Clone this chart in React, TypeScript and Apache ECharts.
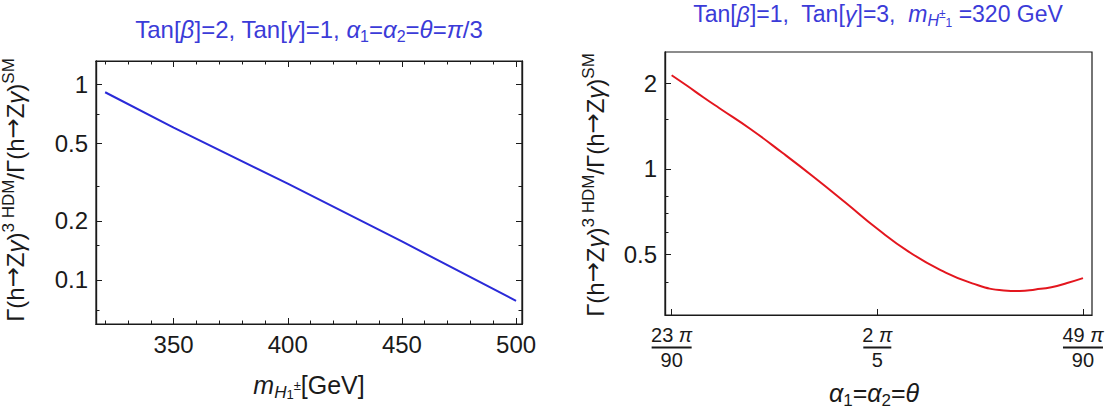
import React, { useEffect, useRef } from 'react';
import * as echarts from 'echarts';

// ---------- data ----------
// Left panel: ratio vs charged Higgs mass
const massGeV = [320, 350, 400, 450, 500];
const ratioVsMass = [0.91, 0.6, 0.31, 0.157, 0.078];
const massTicks = [350, 400, 450, 500];
const massMinorTicks = [320, 330, 340, 360, 370, 380, 390, 410, 420, 430, 440, 460, 470, 480, 490];
const leftRatioTicks = [0.1, 0.2, 0.5, 1];
const leftRatioMinorTicks = [0.07, 0.15, 0.3, 0.7];

// Right panel: ratio vs theta (theta given in units of pi/90)
const thetaInPiOver90 = [23, 24, 25, 26, 28, 30, 32, 34, 36, 38, 40, 42, 44, 45, 46, 47, 48, 49];
const ratioVsTheta = [2.14, 1.96, 1.79, 1.64, 1.38, 1.14, 0.935, 0.76, 0.615, 0.51, 0.44, 0.395, 0.373, 0.371, 0.376, 0.383, 0.396, 0.412];
const thetaTickNum = [23, 2, 49];
const thetaTickDen = [90, 5, 90];
const rightRatioTicks = [0.5, 1, 2];
const rightRatioMinorTicks = [0.4, 0.6, 0.7, 0.8, 1.5];

// ---------- styling ----------
const FONT = "'Liberation Sans', Arial, Helvetica, sans-serif";
const BLACK = '#1a1a1a';
const TITLE_BLUE = '#3b3bd8';
const LINE_BLUE = '#2a2ad8';
const LINE_RED = '#e3161e';

const thetaRad = thetaInPiOver90.map((u) => (u * Math.PI) / 90);
const thetaTickValues = thetaTickNum.map((n, i) => (n * Math.PI) / thetaTickDen[i]);

const fmtNum = (v: number) => String(+Number(v).toPrecision(3));

function tickAxis(opts: any) {
  const { gridIndex, position, type, min, max, ticks, len, label } = opts;
  return {
    type,
    gridIndex,
    position,
    min,
    max,
    splitLine: { show: false },
    axisLine: { show: true, onZero: false, lineStyle: { color: BLACK, width: 1.2 } },
    axisTick: {
      show: true,
      inside: true,
      length: len,
      customValues: ticks,
      lineStyle: { color: BLACK, width: 1 },
    },
    axisLabel: label
      ? { show: true, customValues: ticks, ...label }
      : { show: false },
  };
}

const tickLabel = {
  fontSize: 24,
  fontFamily: FONT,
  color: BLACK,
  margin: 8,
  formatter: (v: number) => fmtNum(v),
};

const fracLabel = {
  fontFamily: FONT,
  color: BLACK,
  margin: 9,
  formatter: (v: number) => {
    const i = thetaTickValues.findIndex((t) => Math.abs(t - v) < 1e-6);
    if (i < 0) return '';
    const n = thetaTickNum[i];
    const bar = String(n).length > 1 ? 'barW' : 'barN';
    return `{n|${n} }{pi|π}\n{${bar}| }\n{n|${thetaTickDen[i]}}`;
  },
  rich: {
    n: { fontSize: 20, fontFamily: FONT, color: BLACK, lineHeight: 22 },
    pi: { fontSize: 20, fontFamily: FONT, color: BLACK, fontStyle: 'italic', lineHeight: 22 },
    barW: { width: 40, height: 2, backgroundColor: BLACK, fontSize: 1, lineHeight: 3 },
    barN: { width: 28, height: 2, backgroundColor: BLACK, fontSize: 1, lineHeight: 3 },
  },
};

const richBase = (size: number, color: string) => ({
  i: { fontSize: size, fontFamily: FONT, fill: color, fontStyle: 'italic', lineHeight: size + 6 },
  sub: { fontSize: Math.round(size * 0.68), fontFamily: FONT, fill: color, verticalAlign: 'bottom', lineHeight: Math.round(size * 0.6) },
  subi: { fontSize: Math.round(size * 0.68), fontFamily: FONT, fill: color, fontStyle: 'italic', verticalAlign: 'bottom', lineHeight: Math.round(size * 0.6) },
  ss: { fontSize: Math.round(size * 0.5), fontFamily: FONT, fill: color, verticalAlign: 'bottom', lineHeight: Math.round(size * 0.3) },
  ssup: { fontSize: Math.round(size * 0.5), fontFamily: FONT, fill: color, verticalAlign: 'middle', lineHeight: Math.round(size * 0.6) },
  sup: { fontSize: Math.round(size * 0.7), fontFamily: FONT, fill: color, verticalAlign: 'top', lineHeight: Math.round(size * 0.55) },
  ar: { fontSize: size, fontFamily: "'DejaVu Sans', sans-serif", fill: color, lineHeight: size + 6, padding: [0, 0, 4, 0] },
});

function textEl(x: number, y: number, text: string, size: number, color: string, rotation = 0) {
  return {
    type: 'text',
    x,
    y,
    rotation,
    style: {
      text,
      fill: color,
      fontSize: size,
      fontFamily: FONT,
      align: 'center',
      verticalAlign: 'middle',
      rich: richBase(size, color),
    },
  };
}

const yTitle = 'Γ(h{ar|→}Z{i|γ}){sup|3 HDM}/Γ(h{ar|→}Z{i|γ}){sup|SM}';

export default function App() {
  const ref = useRef<HTMLDivElement>(null);
  useEffect(() => {
    if (!ref.current) return;
    const chart = echarts.init(ref.current, null, { renderer: 'svg' });
    const option: any = {
      animation: false,
      backgroundColor: '#ffffff',
      grid: [
        { left: 96, top: 61, width: 426, height: 263, show: true, borderColor: BLACK, borderWidth: 1.2, containLabel: false },
        { left: 665, top: 52, width: 427, height: 263, show: true, borderColor: BLACK, borderWidth: 1.2, containLabel: false },
      ],
      xAxis: [
        tickAxis({ gridIndex: 0, position: 'bottom', type: 'value', min: 316, max: 502.6, ticks: massTicks, len: 6, label: tickLabel }),
        tickAxis({ gridIndex: 0, position: 'bottom', type: 'value', min: 316, max: 502.6, ticks: massMinorTicks, len: 3.5 }),
        tickAxis({ gridIndex: 0, position: 'top', type: 'value', min: 316, max: 502.6, ticks: massTicks, len: 6 }),
        tickAxis({ gridIndex: 0, position: 'top', type: 'value', min: 316, max: 502.6, ticks: massMinorTicks, len: 3.5 }),
        tickAxis({ gridIndex: 1, position: 'bottom', type: 'value', min: (22.58 * Math.PI) / 90, max: (49.57 * Math.PI) / 90, ticks: thetaTickValues, len: 6, label: fracLabel }),
      ],
      yAxis: [
        tickAxis({ gridIndex: 0, position: 'left', type: 'log', min: 0.0594, max: 1.315, ticks: leftRatioTicks, len: 6, label: tickLabel }),
        tickAxis({ gridIndex: 0, position: 'left', type: 'log', min: 0.0594, max: 1.315, ticks: leftRatioMinorTicks, len: 3.5 }),
        tickAxis({ gridIndex: 0, position: 'right', type: 'log', min: 0.0594, max: 1.315, ticks: leftRatioTicks, len: 6 }),
        tickAxis({ gridIndex: 0, position: 'right', type: 'log', min: 0.0594, max: 1.315, ticks: leftRatioMinorTicks, len: 3.5 }),
        tickAxis({ gridIndex: 1, position: 'left', type: 'log', min: 0.3055, max: 2.584, ticks: rightRatioTicks, len: 6, label: tickLabel }),
        tickAxis({ gridIndex: 1, position: 'left', type: 'log', min: 0.3055, max: 2.584, ticks: rightRatioMinorTicks, len: 3.5 }),
      ],
      series: [
        {
          type: 'line',
          xAxisIndex: 0,
          yAxisIndex: 0,
          data: massGeV.map((m, i) => [m, ratioVsMass[i]]),
          showSymbol: false,
          symbol: 'none',
          lineStyle: { color: LINE_BLUE, width: 2 },
          itemStyle: { color: LINE_BLUE },
        },
        {
          type: 'line',
          xAxisIndex: 4,
          yAxisIndex: 4,
          data: thetaRad.map((t, i) => [t, ratioVsTheta[i]]),
          smooth: 0.5,
          showSymbol: false,
          symbol: 'none',
          lineStyle: { color: LINE_RED, width: 2 },
          itemStyle: { color: LINE_RED },
        },
      ],
      graphic: [
        textEl(309, 29, 'Tan[{i|β}]=2, Tan[{i|γ}]=1, {i|α}{sub|1}={i|α}{sub|2}={i|θ}={i|π}/3', 24, TITLE_BLUE),
        textEl(878, 14, 'Tan[{i|β}]=1,  Tan[{i|γ}]=3,  {i|m}{subi|H}{ssup|±}{ss|1} =320 GeV', 23, TITLE_BLUE),
        textEl(309, 385, '{i|m}{subi|H}{ss|1}{ssup|±}[GeV]', 25, BLACK),
        textEl(874, 393, '{i|α}{sub|1}={i|α}{sub|2}={i|θ}', 25, BLACK),
        textEl(15, 190, yTitle, 24, BLACK, Math.PI / 2),
        textEl(595, 185, yTitle, 24, BLACK, Math.PI / 2),
      ],
    };
    chart.setOption(option);
    return () => chart.dispose();
  }, []);
  return (
    <div
      ref={ref}
      style={{ position: 'absolute', left: 0, top: 0, width: 1107, height: 410, background: '#fff' }}
    />
  );
}
